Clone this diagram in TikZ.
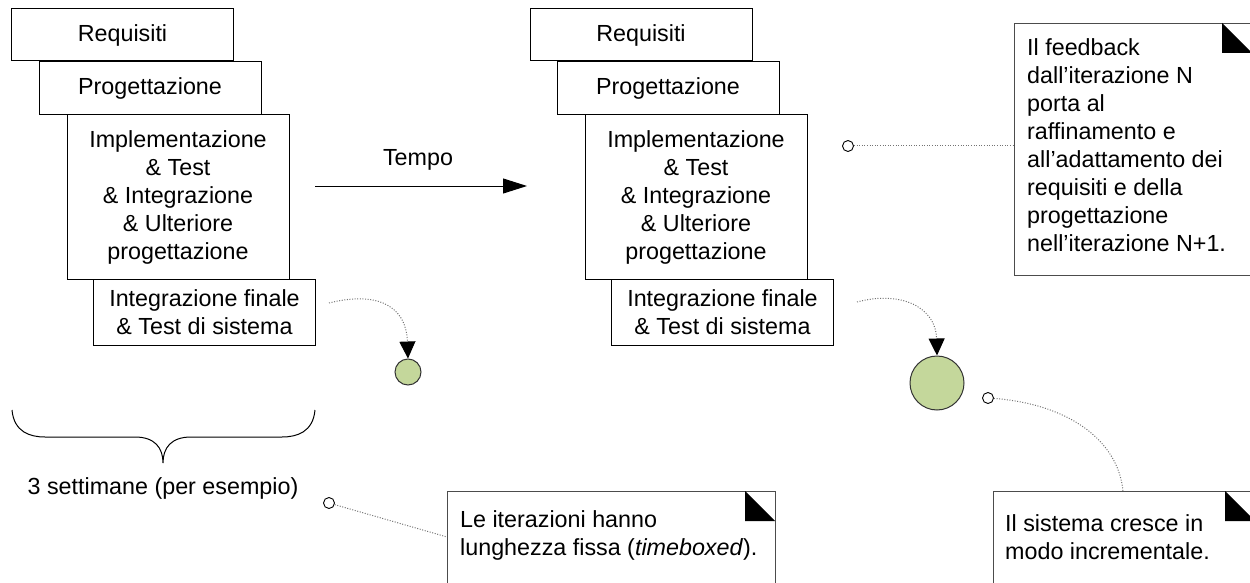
\documentclass[tikz,border=0pt]{standalone}
\usepackage{fontspec}
\setmainfont{Liberation Sans}
\usetikzlibrary{arrows.meta}
\definecolor{circgreen}{RGB}{196,215,155}
\begin{document}
\begin{tikzpicture}[x=1pt,y=-1pt,
  every node/.style={font=\fontsize{23.3}{28}\selectfont, inner sep=0pt},
  phase/.style={draw=black, line width=1pt, fill=white, align=center, minimum width=222pt},
  notebox/.style={draw=black!70, line width=1pt, fill=white},
  fold/.style={fill=black},
  dotline/.style={draw=black!55, line width=1pt, dash pattern=on 1pt off 1.6pt},
  pin/.style={circle, draw=black, line width=0.9pt, fill=white, minimum size=11pt},
  ball/.style={circle, draw=black!80, line width=1pt, fill=circgreen},
  curvetip/.style={-{Triangle[length=17pt,width=16pt,color=black,fill=black]}},
  txt/.style={align=left}
]
\useasboundingbox (0,0) rectangle (1250,583);

% left stack
\node[phase, minimum height=52pt] (req1) at (122.5,35) {Requisiti};
\node[phase, minimum height=53pt] (prog1) at (150,88.5) {Progettazione};
\node[phase, minimum height=164pt] (impl1) at (178,197) {Implementazione\\ \& Test\\ \& Integrazione\\ \& Ulteriore\\ progettazione};
\node[phase, minimum height=66pt] (fin1) at (204.5,312) {Integrazione finale\\ \& Test di sistema};

% right stack
\node[phase, minimum height=52pt] (req2) at (641,35) {Requisiti};
\node[phase, minimum height=53pt] (prog2) at (668,88.5) {Progettazione};
\node[phase, minimum height=164pt] (impl2) at (696,197) {Implementazione\\ \& Test\\ \& Integrazione\\ \& Ulteriore\\ progettazione};
\node[phase, minimum height=66pt] (fin2) at (722.5,312) {Integrazione finale\\ \& Test di sistema};

% time arrow
\coordinate (a1) at (315,186);
\coordinate (a2) at (527,186);
\draw[line width=1pt, -{Triangle[length=24pt,width=15pt]}] (a1) -- (a2);
\node (tempo) at (418,160) {Tempo};

% growth circles
\node[ball, minimum size=26pt] (c1) at (408,372) {};
\node[ball, minimum size=54pt] (c2) at (937,383) {};
\coordinate (s1) at (329,303);
\coordinate (s2) at (857,302);
\draw[dotline, curvetip] (s1) .. controls (372,292) and (406,302) .. (c1.north);
\draw[dotline, curvetip] (s2) .. controls (902,290) and (936,308) .. (c2.north);

% brace
\draw[line width=1pt] (12,410) .. controls (14,432) and (30,437) .. (45,437) -- (135,437)
  .. controls (155,437) and (163,448) .. (163,463)
  .. controls (163,448) and (171,437) .. (191,437) -- (282,437)
  .. controls (297,437) and (313,432) .. (315,410);
\node (weeks) at (163,488) {3 settimane (per esempio)};

% note 1
\node[notebox, anchor=north west, minimum width=238pt, minimum height=252pt] (n1) at (1014,23) {};
\fill[fold] (1222,23) -- (1222,53) -- (1252,53) -- cycle;
\node[txt, anchor=west] (n1t) at (1027,145) {Il feedback\\ dall’iterazione N\\ porta al\\ raffinamento e\\ all’adattamento dei\\ requisiti e della\\ progettazione\\ nell’iterazione N+1.};
\node[pin] (o1) at (848,146) {};
\draw[dotline] (o1) -- (o1 -| n1.west);

% note 2
\node[notebox, anchor=north west, minimum width=328pt, minimum height=110pt] (n2) at (447,491) {};
\fill[fold] (745,491) -- (745,521) -- (775,521) -- cycle;
\node[txt, anchor=west] (n2t) at (460,535.5) {Le iterazioni hanno\\ lunghezza fissa (\textit{timeboxed}).};
\node[pin] (o2) at (329,503) {};
\coordinate (t2) at (447,537);
\draw[dotline] (o2) -- (t2);

% note 3
\node[notebox, anchor=north west, minimum width=262pt, minimum height=110pt] (n3) at (993,491) {};
\fill[fold] (1225,491) -- (1225,521) -- (1255,521) -- cycle;
\node[txt, anchor=west] (n3t) at (1005,537) {Il sistema cresce in\\ modo incrementale.};
\node[pin] (o3) at (988,398) {};
\coordinate (t3) at (1123,491);
\draw[dotline] (o3) .. controls (1068,404) and (1118,440) .. (t3);
\end{tikzpicture}
\end{document}
